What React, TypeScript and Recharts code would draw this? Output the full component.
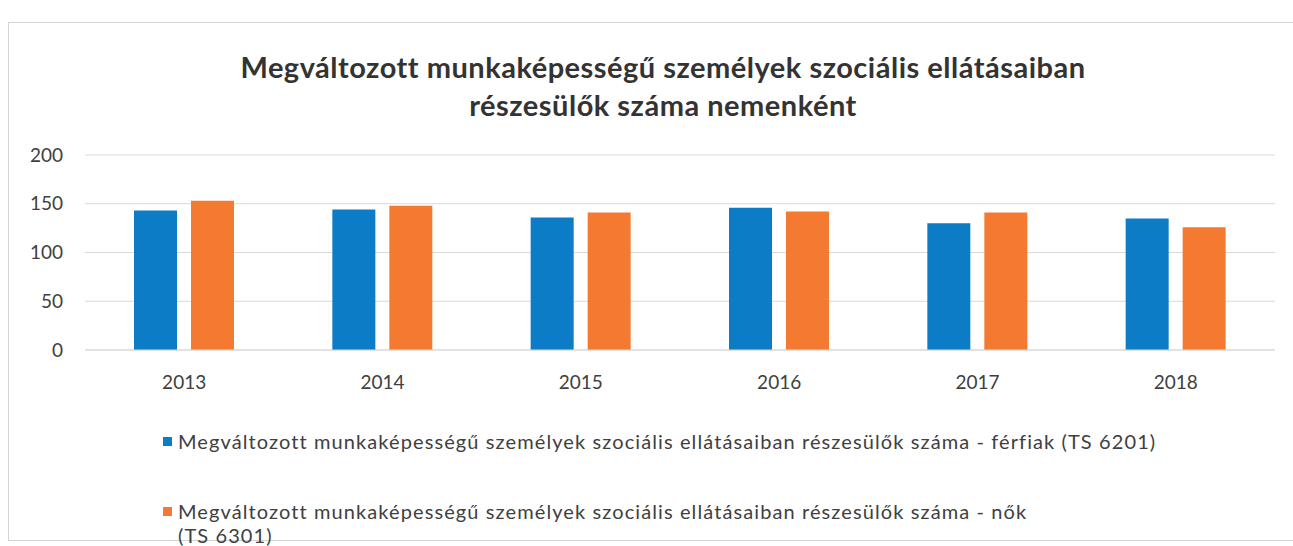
import React from "react"
import { Bar, BarChart, CartesianGrid, Legend, XAxis, YAxis } from "recharts"

const years = ["2013", "2014", "2015", "2016", "2017", "2018"]
const ferfiak = [143, 144, 136, 146, 130, 135]
const nok = [153, 148, 141, 142, 141, 126]
const yTicks = [0, 50, 100, 150, 200]

const titleLines = [
  "Megváltozott munkaképességű személyek szociális ellátásaiban",
  "részesülők száma nemenként",
]
const seriesNames = [
  "Megváltozott munkaképességű személyek szociális ellátásaiban részesülők száma - férfiak (TS 6201)",
  "Megváltozott munkaképességű személyek szociális ellátásaiban részesülők száma - nők",
]
const secondNameTail = "(TS 6301)"

const BLUE = "#0d7cc6"
const ORANGE = "#f47a32"
const FONT = "Lato, 'Open Sans', sans-serif"

const data = years.map((year, i) => ({ year, ferfiak: ferfiak[i], nok: nok[i] }))

function LegendBox() {
  const item = (color: string, lines: string[], top: number) => (
    <div style={{ position: "absolute", left: 0, top, display: "flex", alignItems: "flex-start" }}>
      <span style={{ width: 9, height: 9, background: color, marginTop: 8, marginRight: 6, flex: "none" }} />
      <div style={{ lineHeight: "24px", whiteSpace: "nowrap" }}>
        {lines.map((l) => (
          <div key={l}>{l}</div>
        ))}
      </div>
    </div>
  )
  return (
    <div
      style={{
        position: "relative",
        height: 100,
        width: 1100,
        fontSize: 20,
        letterSpacing: 1.1,
        color: "#404040",
        fontFamily: FONT,
      }}
    >
      {item(BLUE, [seriesNames[0]], 0)}
      {item(ORANGE, [seriesNames[1], secondNameTail], 70)}
    </div>
  )
}

export default function App() {
  return (
    <div style={{ position: "absolute", left: 0, top: 0, width: 1293, height: 546, background: "#fff", overflow: "hidden" }}>
      <div
        style={{
          position: "absolute",
          left: 8,
          top: 22,
          right: -2,
          bottom: 5,
          border: "1px solid #d4d4d4",
        }}
      />
      <div
        style={{
          position: "absolute",
          left: 0,
          width: 1326,
          top: 48,
          textAlign: "center",
          fontFamily: FONT,
          fontWeight: 700,
          fontSize: 29,
          letterSpacing: 0.5,
          lineHeight: "38px",
          color: "#333",
        }}
      >
        {titleLines.map((l) => (
          <div key={l}>{l}</div>
        ))}
      </div>
      <div style={{ position: "absolute", left: 0, top: 0 }}>
        <BarChart
          width={1293}
          height={546}
          data={data}
          margin={{ top: 155, right: 18, left: 25, bottom: 66 }}
          barCategoryGap={50}
          barGap={14}
        >
          <CartesianGrid vertical={false} stroke="#d9d9d9" />
          <XAxis
            dataKey="year"
            axisLine={{ stroke: "#d9d9d9" }}
            tickLine={false}
            tickMargin={20}
            height={30}
            tick={{ fill: "#404040", fontSize: 19, fontFamily: FONT }}
          />
          <YAxis
            domain={[0, 200]}
            ticks={yTicks}
            axisLine={false}
            tickLine={false}
            tickMargin={16}
            width={60}
            tick={{ fill: "#404040", fontSize: 19, fontFamily: FONT }}
          />
          <Legend
            verticalAlign="bottom"
            content={() => <LegendBox />}
            wrapperStyle={{ top: 429, left: 163, bottom: "auto", width: 1100 }}
          />
          <Bar dataKey="ferfiak" fill={BLUE} barSize={43} isAnimationActive={false} />
          <Bar dataKey="nok" fill={ORANGE} barSize={43} isAnimationActive={false} />
        </BarChart>
      </div>
    </div>
  )
}
